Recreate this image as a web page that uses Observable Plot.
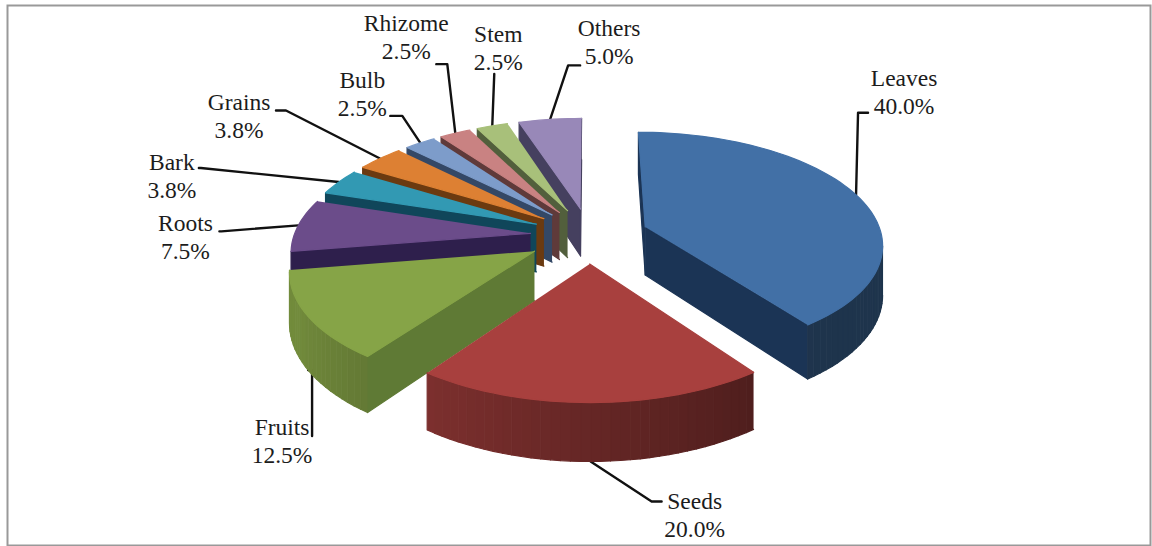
<!DOCTYPE html>
<html>
<head>
<meta charset="utf-8">
<script src="https://cdn.jsdelivr.net/npm/d3@7"></script>
<script src="https://cdn.jsdelivr.net/npm/@observablehq/plot@0.6"></script>
<style>
  html, body { margin: 0; padding: 0; background: #fff; }
  svg { display: block; }
</style>
</head>
<body>
<div id="chart"></div>
<script>
// Plant parts used, in percent, clockwise from twelve o'clock
const parts = ["Leaves", "Seeds", "Fruits", "Roots", "Bark", "Grains", "Bulb", "Rhizome", "Stem", "Others"];
const percents = [40.0, 20.0, 12.5, 7.5, 3.8, 3.8, 2.5, 2.5, 2.5, 5.0];

// Face colours of each wedge
const topColors = ["#4270a6", "#a8403e", "#86a447", "#6b4c8a", "#3299b3", "#dd8033", "#7d9cca", "#c98282", "#a8c07a", "#9888b8"];
const sideColors = ["#1b3455", "#4f1b19", "#5f7a35", "#2e1f4c", "#10465a", "#6b3a10", "#344866", "#5f3a3a", "#525f3c", "#45405f"];

// How far each wedge is pulled out of the pie, relative to the common distance
const explodeFactors = [1, 1, 1.07, 1, 1, 1, 1, 1, 1, 1];

// Leader and label placement relative to each wedge's rim midpoint: [elbow, tip, text]
const labelOffsets = [
  [[2, -82], [12, -82], [48, -109]],
  [[61, 40], [71, 40], [104, 48]],
  [[4, 0], [4, 66], [-26, 65]],
  [[-77, 6], [-79, 6], [-113, 6]],
  [[-138, -14], [-140, -14], [-167, -12]],
  [[-94, -48], [-104, -48], [-141, -48]],
  [[-18, -27], [-30, -27], [-58, -55]],
  [[-8, -69], [-19, -69], [-49, -102]],
  [[2, -52], [2, -52], [6, -84]],
  [[18, -54], [30, -54], [59, -83]]
];
// Wedges whose leader leaves from the lower rim
const lowerRim = new Set(["Seeds", "Fruits"]);

// Perspective camera over the pie's ground plane
const camera = {focal: 1680, vanishX: 589, horizonY: -548};
const pie = {depth: 2.146, radius: 0.302, explode: 0.0757, thickness: 0.062};
const rad = Math.PI / 180;

function project(wx, wz, drop = 0) {
  return {
    x: camera.vanishX + camera.focal * wx / wz,
    y: camera.horizonY + camera.focal * (1 + drop) / wz
  };
}

const total = d3.sum(percents);
let running = 0;
const wedges = parts.map((name, i) => {
  const start = running / total * 360;
  running += percents[i];
  const end = running / total * 360;
  const mid = (start + end) / 2;
  const pull = pie.explode * explodeFactors[i];
  return {
    name, value: percents[i], start, end, mid,
    top: topColors[i], side: sideColors[i], offsets: labelOffsets[i],
    ax: pull * Math.sin(mid * rad),
    az: pie.depth + pull * Math.cos(mid * rad)
  };
});

const rim = (w, deg, drop = 0) => project(
  w.ax + pie.radius * Math.sin(deg * rad),
  w.az + pie.radius * Math.cos(deg * rad),
  drop
);
const apex = (w, drop = 0) => project(w.ax, w.az, drop);

// Screen winding tells which walls look toward the camera
function facesCamera(pts) {
  let area = 0;
  pts.forEach((p, i) => {
    const q = pts[(i + 1) % pts.length];
    area += p.x * q.y - q.x * p.y;
  });
  return area < 0;
}

// Rim walls darken toward the right-hand side of the pie
function rimShade(w, deg) {
  const f = Math.max(0.46, Math.min(0.85, 0.47 + (deg - 144) * 0.27 / 72));
  const c = d3.rgb(w.top);
  return d3.rgb(c.r * f, c.g * f, c.b * f).formatRgb();
}

const faces = [];
let faceId = 0;
function addFace(pts, color) {
  const id = faceId++;
  pts.forEach(p => faces.push({id, x: p.x, y: p.y, color}));
}

// Far wedges first so nearer ones paint over them
for (const w of [...wedges].sort((a, b) => b.az - a.az + Math.cos(b.mid * rad) - Math.cos(a.mid * rad))) {
  const t = pie.thickness;
  const startWall = [apex(w), rim(w, w.start), rim(w, w.start, t), apex(w, t)];
  const endWall = [rim(w, w.end), apex(w), apex(w, t), rim(w, w.end, t)];
  if (facesCamera(startWall)) addFace(startWall, w.side);
  if (facesCamera(endWall)) addFace(endWall, w.side);

  const angles = d3.range(w.start, w.end, 2).concat(w.end);
  for (let k = 0; k < angles.length - 1; k++) {
    const a = angles[k], b = angles[k + 1];
    const strip = [rim(w, a), rim(w, b), rim(w, b, t), rim(w, a, t)];
    if (facesCamera(strip)) addFace(strip, rimShade(w, (a + b) / 2));
  }
  addFace([apex(w), ...angles.map(d => rim(w, d))], w.top);
}

// Leader polylines and two-line labels
const leaders = [];
const names = [];
const values = [];
for (const w of wedges) {
  const anchor = rim(w, w.mid, lowerRim.has(w.name) ? pie.thickness : 0);
  const [elbow, tip, text] = w.offsets;
  for (const [dx, dy] of [[0, 0], elbow, tip]) {
    leaders.push({name: w.name, x: anchor.x + dx, y: anchor.y + dy});
  }
  names.push({label: w.name, x: anchor.x + text[0], y: anchor.y + text[1]});
  values.push({label: d3.format(".1f")(w.value) + "%", x: anchor.x + text[0], y: anchor.y + text[1] + 28});
}

const textStyle = {
  x: "x", y: "y", text: "label", textAnchor: "middle", lineAnchor: "bottom",
  fontFamily: "Liberation Serif", fontSize: 23.5, fill: "#1c1c1c"
};

const chart = Plot.plot({
  width: 1152,
  height: 546,
  margin: 0,
  x: {domain: [0, 1152], range: [0, 1152], axis: null},
  y: {domain: [0, 546], range: [0, 546], axis: null},
  marks: [
    Plot.frame({stroke: "#999", strokeWidth: 2, insetLeft: 7, insetRight: 2, insetTop: 5, insetBottom: 1}),
    Plot.line(leaders, {x: "x", y: "y", z: "name", stroke: "#111", strokeWidth: 2.4, curve: "linear"}),
    Plot.line(faces, {x: "x", y: "y", z: "id", fill: "color", stroke: "color", strokeWidth: 1.2, curve: "linear"}),
    Plot.text(names, textStyle),
    Plot.text(values, textStyle)
  ]
});
document.getElementById("chart").append(chart);
</script>
</body>
</html>
